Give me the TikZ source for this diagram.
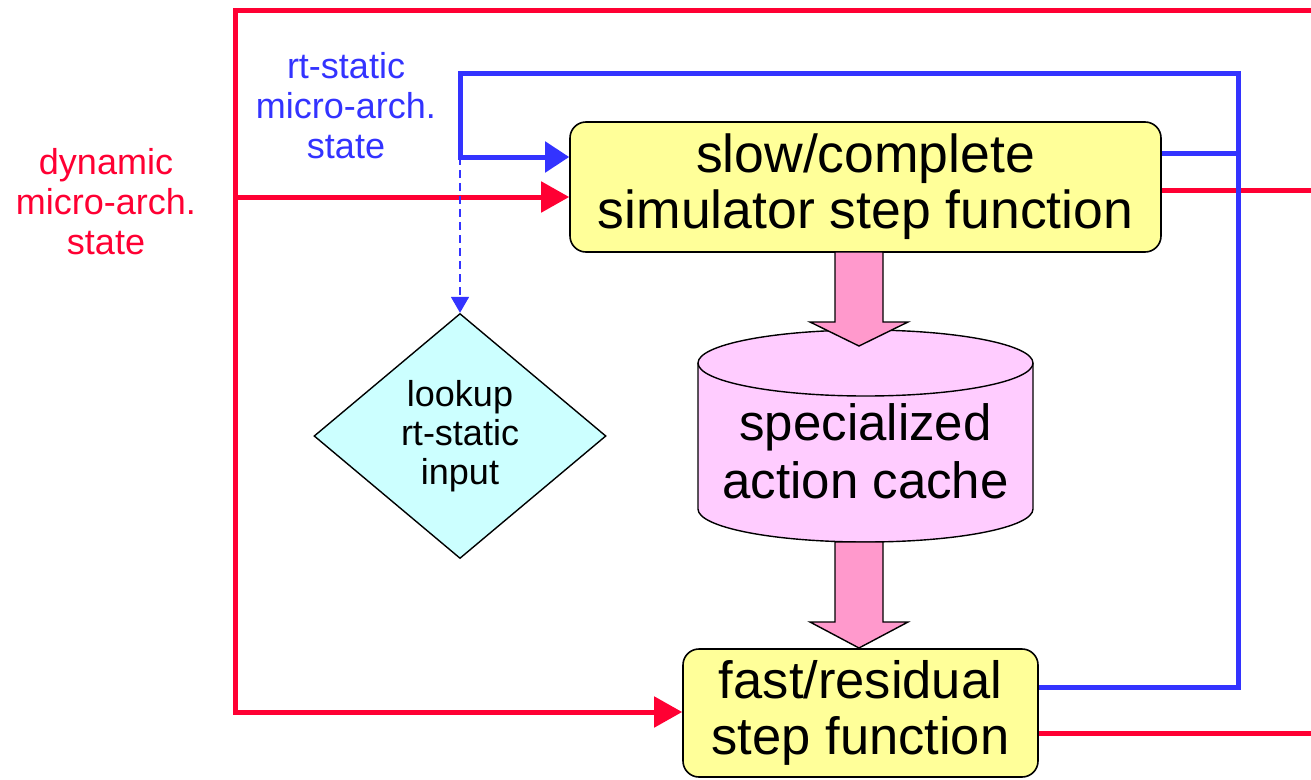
\documentclass[tikz,border=0pt]{standalone}
\usepackage{fontspec}
\setmainfont{Liberation Sans}
\usetikzlibrary{arrows.meta,shapes.geometric,calc}
\definecolor{cred}{HTML}{FF0033}
\definecolor{cblue}{HTML}{3333FF}
\definecolor{cyellow}{HTML}{FFFF99}
\definecolor{ccyan}{HTML}{CCFFFF}
\definecolor{cpink}{HTML}{FFCCFF}
\definecolor{carrow}{HTML}{FF99CC}
\newcommand\bigfont{\fontsize{53.5}{56}\selectfont}
\newcommand\fastfont{\fontsize{52.5}{56}\selectfont}
\newcommand\cylfont{\fontsize{51}{58}\selectfont}
\newcommand\lblfont{\fontsize{36}{40}\selectfont}
\newcommand\dmdfont{\fontsize{36}{39}\selectfont}
\tikzset{
 redline/.style={draw=cred, line width=5pt},
 blueline/.style={draw=cblue, line width=5pt},
 redarrow/.style={redline, -{Triangle[length=28pt,width=30pt]}},
 bluearrow/.style={blueline, -{Triangle[length=24pt,width=30pt]}},
 dasharrow/.style={draw=cblue, line width=1.8pt, dash pattern=on 8pt off 5pt, -{Triangle[length=16pt,width=18pt]}},
 stepbox/.style={draw, line width=1.6pt, fill=cyellow, rounded corners=16pt, align=center, font=\bigfont, inner sep=0pt},
 outline/.style={draw, line width=1.4pt},
 fatarrow/.style={outline, fill=carrow, line join=miter},
 lbl/.style={font=\lblfont, align=center, inner sep=0pt}
}
\begin{document}
\begin{tikzpicture}[x=1pt, y=-1pt]
\useasboundingbox (0,0) rectangle (1311,779);

% boxes
\node[stepbox, minimum width=591pt, minimum height=130pt] (slow) at (865.5,187) {slow/complete\\simulator step function};
\node[stepbox, font=\fastfont, minimum width=355pt, minimum height=128pt] (fast) at (860.5,713) {fast/residual\\step function};
\node[diamond, outline, fill=ccyan, minimum width=292pt, minimum height=245pt, inner sep=0pt, align=center, font=\dmdfont] (look) at (460,436) {lookup\\rt-static\\input};

% cylinder
\path[outline, fill=cpink] (698,363) -- (698,509) arc[start angle=180, end angle=0, x radius=167.5, y radius=33] -- (1033,363) arc[start angle=0, end angle=-180, x radius=167.5, y radius=33] -- cycle;
\draw[outline] (698,363) arc[start angle=180, end angle=0, x radius=167.5, y radius=33];
\node[font=\cylfont, align=center, inner sep=0pt] (cache) at (865.5,451) {specialized\\action cache};

% fat pink arrows
\draw[fatarrow] (835,252) -- (835,322) -- (810,322) -- (859,346) -- (908,322) -- (883,322) -- (883,252) -- cycle;
\draw[fatarrow] (835,542) -- (835,622) -- (810,622) -- (859,648) -- (908,622) -- (883,622) -- (883,542) -- cycle;

% labels
\node[lbl, text=cblue] (lblrt) at (346,106) {rt-static\\micro-arch.\\state};
\node[lbl, text=cred] (lbldyn) at (106,202) {dynamic\\micro-arch.\\state};

% red connectors
\coordinate (rTR) at (1311,10);
\coordinate (rTL) at (235,10);
\coordinate (rBL) at (235,712);
\coordinate (rS) at (235,197);
\coordinate (rO1) at (1311,190);
\coordinate (rO2) at (1311,733);
\draw[redarrow] (rTR) -- (rTL) -- (rBL) -- (rBL -| fast.west);
\draw[redarrow] (rS) -- (rS -| slow.west);
\draw[redline] (rO1 -| slow.east) -- (rO1);
\draw[redline] (rO2 -| fast.east) -- (rO2);

% blue connectors
\coordinate (bTR) at (1238,73);
\coordinate (bTL) at (460,73);
\coordinate (bJ) at (460,157);
\coordinate (bBR) at (1238,687);
\coordinate (bS) at (1238,153);
\draw[bluearrow] (bBR -| fast.east) -- (bBR) -- (bTR) -- (bTL) -- (bJ) -- (bJ -| slow.west);
\draw[blueline] (bS -| slow.east) -- (bS);
\draw[dasharrow] (bJ) -- (look.north);
\end{tikzpicture}
\end{document}
